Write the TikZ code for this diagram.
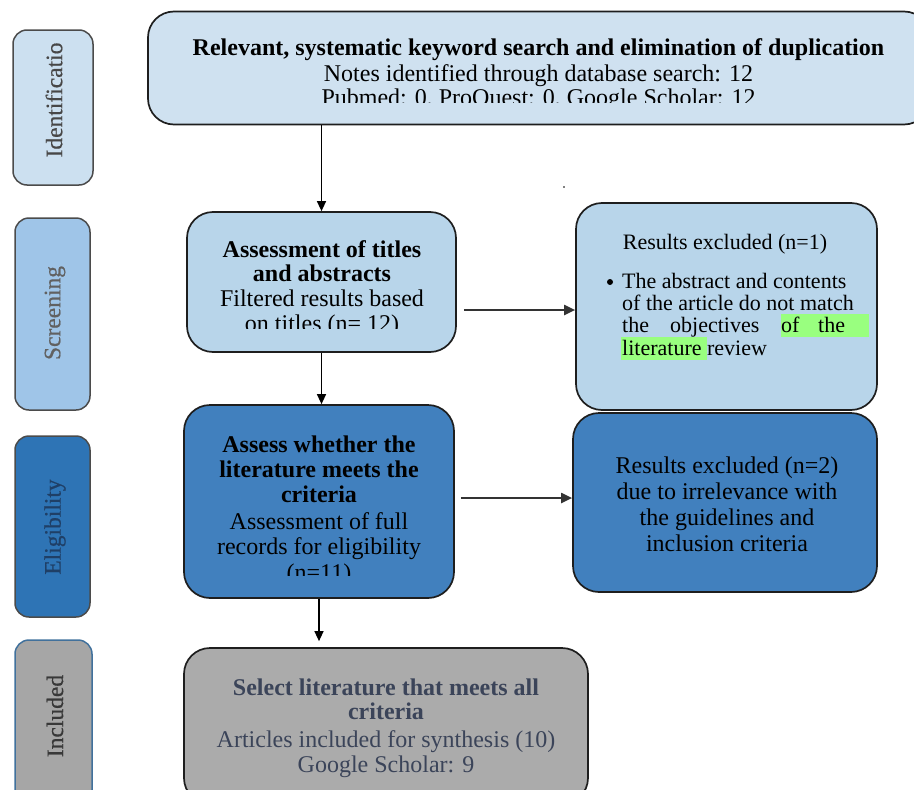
\documentclass[tikz,border=0pt]{standalone}
\usepackage{fontspec}
\setmainfont{Liberation Serif}
\newfontfamily\sidefont{Liberation Serif}[FakeBold=0.6]
\usetikzlibrary{arrows.meta,calc}
\definecolor{boxline}{HTML}{1E1E1E}
\definecolor{cTop}{HTML}{CFE1F0}
\definecolor{cScr}{HTML}{B8D5EA}
\definecolor{cEli}{HTML}{4180BE}
\definecolor{cInc}{HTML}{ABABAB}
\definecolor{sIde}{HTML}{CCE0F0}
\definecolor{sScr}{HTML}{9FC5E8}
\definecolor{sEli}{HTML}{2E74B5}
\definecolor{sInc}{HTML}{A6A6A6}
\definecolor{sIncLine}{HTML}{41719C}
\definecolor{sEliText}{HTML}{1F3F66}
\definecolor{hl}{HTML}{99FF7F}
\definecolor{incText}{HTML}{3B4459}
\newcommand\fmain{\fontsize{24}{26}\selectfont}
\newcommand\fsmall{\fontsize{22}{24}\selectfont}
\newcommand\fside{\sidefont\fontsize{23.5}{25}\selectfont}
\begin{document}
\begin{tikzpicture}[x=1pt,y=-1pt,
  box/.style={draw=boxline, line width=1.7pt, rounded corners=26pt, inner sep=0pt},
  sidebox/.style={draw=boxline!80, line width=1.5pt, rounded corners=14pt, inner sep=0pt},
  txt/.style={inner sep=0pt, anchor=base, font=\fmain},
  btxt/.style={inner sep=0pt, anchor=base, font=\fmain\bfseries},
  stxt/.style={inner sep=0pt, anchor=base west, font=\fsmall},
  sidetxt/.style={inner sep=0pt, rotate=90, font=\fside},
  arr/.style={-{Triangle[length=10pt,width=9pt]}, line width=1.3pt, draw=black},
  harr/.style={-{Triangle[length=11pt,width=10pt]}, line width=2pt, draw=black!80}]
\useasboundingbox (0,0) rectangle (914,790);

% side boxes
\node[sidebox, fill=sIde, minimum width=80pt, minimum height=155pt] (sI) at (53,107.5) {};
\node[sidetxt, text=black!72] (sIt) at (54,100) {Identificatio};
\node[sidebox, fill=sScr, minimum width=75pt, minimum height=192pt] (sS) at (52.5,314) {};
\node[sidetxt, text=black!62] (sSt) at (55,313) {Screening};
\node[sidebox, fill=sEli, minimum width=75pt, minimum height=181pt] (sE) at (52.5,526.5) {};
\node[sidetxt, text=sEliText] (sEt) at (55,527) {Eligibility};
\node[sidebox, draw=sIncLine, fill=sInc, minimum width=77pt, minimum height=164pt] (sN) at (53.5,722) {};
\node[sidetxt, text=black!78] (sNt) at (55,716) {Included};

% main boxes
\node[box, fill=cTop, minimum width=782pt, minimum height=113pt] (top) at (539,68) {};
\node[box, fill=cScr, minimum width=269pt, minimum height=140pt] (scr) at (321.5,282) {};
\node[box, fill=cScr, minimum width=301pt, minimum height=207pt] (ex1) at (726.5,306.5) {};
\node[box, fill=cEli, minimum width=270pt, minimum height=193pt] (eli) at (319,501.5) {};
\node[box, fill=cEli, minimum width=304pt, minimum height=179pt] (ex2) at (725,502.5) {};
\node[box, fill=cInc, minimum width=404pt, minimum height=156pt] (inc) at (386,726) {};

% top text
\node[btxt] (t1) at (538.5,55) {Relevant, systematic keyword search and elimination of duplication};
\node[txt] (t2) at (538.5,81) {Notes identified through database search: 12};
\begin{scope}
\clip (150,0) rectangle (914,102);
\node[txt] (t3) at (538.5,105) {Pubmed: 0, ProQuest: 0, Google Scholar: 12};
\end{scope}

% screening text
\node[btxt] (s1) at (322,257) {Assessment of titles};
\node[btxt] (s2) at (322,281) {and abstracts};
\node[txt] (s3) at (322,306) {Filtered results based};
\begin{scope}
\clip (190,0) rectangle (450,328);
\node[txt] (s4) at (322,331) {on titles (n= 12)};
\end{scope}

% excluded 1
\fill[hl] (781,314) rectangle (869,337);
\fill[hl] (621,337) rectangle (707,360);
\node[txt, font=\fsmall] (e1) at (725,249) {Results excluded (n=1)};
\fill (610,282) circle (3pt);
\node[stxt] (b1) at (622,288) {The abstract and contents};
\node[stxt] (b2) at (622,310) {of the article do not match};
\node[stxt] (b3a) at (622,332) {the};
\node[stxt] (b3b) at (670,332) {objectives};
\node[stxt] (b3c) at (781,332) {of};
\node[stxt] (b3d) at (818,332) {the};
\node[stxt] (b4) at (622,355) {literature review};

% eligibility text
\node[btxt] (l1) at (319,452) {Assess whether the};
\node[btxt] (l2) at (319,477) {literature meets the};
\node[btxt] (l3) at (319,502) {criteria};
\node[txt] (l4) at (319,529) {Assessment of full};
\node[txt] (l5) at (319,554) {records for eligibility};
\begin{scope}
\clip (190,0) rectangle (450,575);
\node[txt] (l6) at (319,580) {(n=11)};
\end{scope}

% excluded 2
\node[txt] (x1) at (727,473) {Results excluded (n=2)};
\node[txt] (x2) at (727,499) {due to irrelevance with};
\node[txt] (x3) at (727,525) {the guidelines and};
\node[txt] (x4) at (727,551) {inclusion criteria};

% included
\node[btxt, text=incText] (i1) at (386,695) {Select literature that meets all};
\node[btxt, text=incText] (i2) at (386,719) {criteria};
\node[txt, text=incText] (i3) at (386,747) {Articles included for synthesis (10)};
\node[txt, text=incText] (i4) at (386,772) {Google Scholar: 9};

% connectors
\draw[arr] (top.south -| scr.north) -- (scr.north);
\draw[arr] (scr.south) -- (scr.south |- eli.north);
\draw[arr, shorten >=6pt] (eli.south) -- (eli.south |- inc.north);
\draw[harr, shorten <=7pt] ($(scr.east |- ex1.west)+(0,3.5)$) -- ($(ex1.west)+(0,3.5)$);
\draw[harr, shorten <=6pt] ($(eli.east |- ex2.west)+(0,-4.5)$) -- ($(ex2.west)+(0,-4.5)$);

\fill (564,187) circle (0.9pt);
\end{tikzpicture}
\end{document}
